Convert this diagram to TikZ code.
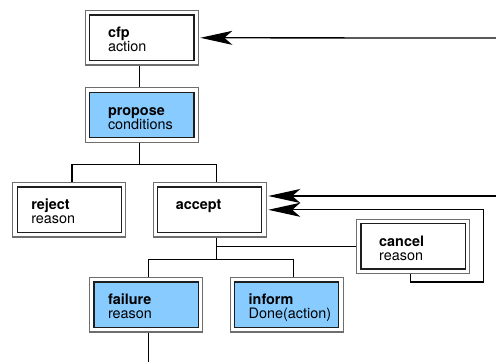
\documentclass[tikz,border=0pt]{standalone}
\usepackage{fontspec}
\setmainfont{TeX Gyre Heros}
\usepackage{tikz}
\usetikzlibrary{arrows.meta}
\usetikzlibrary{calc}
\usetikzlibrary{positioning}
\definecolor{msgblue}{RGB}{136,204,255}
\definecolor{boxgray}{RGB}{110,110,110}
\definecolor{boxdark}{RGB}{30,30,30}
\tikzset{
	msgbox/.style={draw=boxgray, line width=1.1pt, minimum width=113pt, minimum height=54.3pt,
		inner sep=0pt, text width=67.6pt, align=left, text height=0pt, text depth=0pt,
		font=\fontsize{14.4}{14}\selectfont,
		path picture={\draw[line width=1.2pt, draw=boxdark, fill=#1]
			([shift={(4.4pt,4.4pt)}]path picture bounding box.south west) rectangle
			([shift={(-4.4pt,-4.4pt)}]path picture bounding box.north east);}},
	msgbox/.default=white,
	wide/.style={text width=76pt},
	flow/.style={line width=1.3pt},
	reply/.style={flow, -{Stealth[length=32pt,width=14pt,inset=8pt]}, shorten >=1.5pt}
}
\begin{document}
\begin{tikzpicture}[x=1pt,y=-1pt]
		\useasboundingbox (0,0) rectangle (496,362);
		\path 	(141.8,37.8)	node[msgbox] (cfp) 	{\textbf{cfp}\\action}
			(141.8,115)	node[msgbox=msgblue] (propose) 	{\textbf{propose}\\conditions}
			(69.3,209.8)	node[msgbox, wide] (reject) 	{\textbf{reject}\\reason}
			(209.7,209.8)	node[msgbox] (accept) 	{\textbf{accept}}
			(146,304.8)	node[msgbox=msgblue, wide] (failure) 	{\textbf{failure}\\reason}
			(286.7,304.8)	node[msgbox=msgblue, wide] (inform) 	{\textbf{inform}\\Done(action)}
			(413,246.2)	node[msgbox] (cancel) 	{\textbf{cancel}\\reason};
		\coordinate (pbus) at (139.5,164.7);
		\coordinate (abus) at (216.7,259.3);
		\coordinate (loop) at (483.3,282);
		\coordinate (in1) at (496,38);
		\coordinate (in2) at (496,196);
		\coordinate (out) at (148.7,362);
		\draw[flow] ([xshift=-2.3pt]cfp.south) to ([xshift=-2.3pt]propose.north);
		\draw[flow] ([xshift=-2.3pt]propose.south) to (pbus);
		\draw[flow] ([xshift=2.7pt]reject.north) |- (pbus) -| ([xshift=7pt]accept.north);
		\draw[flow] ([xshift=7pt]accept.south) to (abus);
		\draw[flow] (cancel.west) to (cancel.west -| abus);
		\draw[flow] ([xshift=2.7pt]failure.north) |- (abus) -| ([xshift=6.6pt]inform.north);
		\draw[flow] ([xshift=2.7pt]failure.south) to (out);
			\draw[reply] ([xshift=-2.3pt]cancel.south) |- (loop) |- (accept.east);
			\draw[reply] (in2) to ([yshift=13.8pt]accept.east);
			\draw[reply] (in1) to (cfp.east);
	\end{tikzpicture}
\end{document}
